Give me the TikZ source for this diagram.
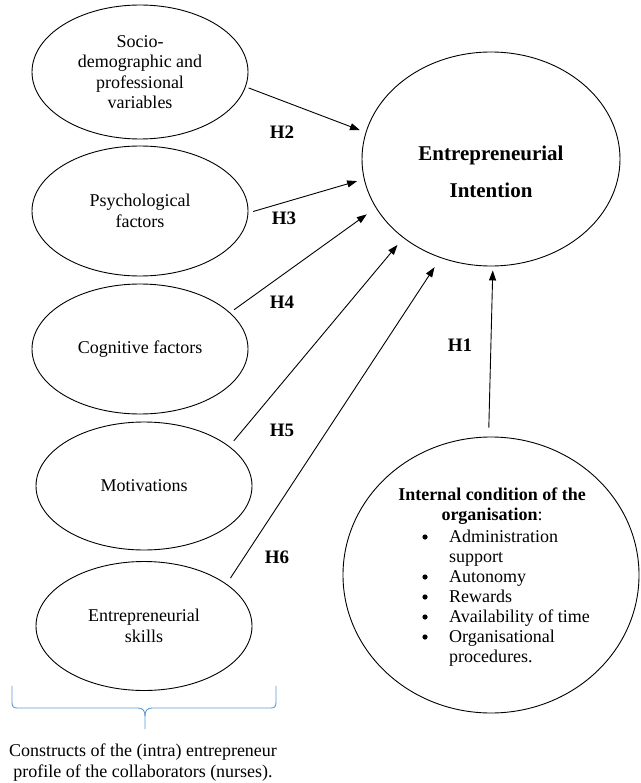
\documentclass[tikz,border=0pt]{standalone}
\usepackage{fontspec}
\setmainfont{Liberation Serif}
\usetikzlibrary{shapes.geometric,arrows.meta}
\definecolor{bracecol}{RGB}{91,155,213}
\begin{document}
\begin{tikzpicture}[x=1pt,y=-1pt,
  oval/.style={draw, line width=0.9pt, ellipse, inner sep=0pt, align=center,
    font=\fontsize{18}{20.5}\selectfont},
  hyp/.style={font=\fontsize{19}{22}\selectfont\bfseries, inner sep=0pt},
  link/.style={line width=0.9pt, -{Triangle[length=10pt,width=7pt]}},
  plain/.style={font=\fontsize{18}{20}\selectfont, inner sep=0pt},
  bracestyle/.style={draw=bracecol, line width=0.9pt},
  ]
\useasboundingbox (0,0) rectangle (640,783);

% left constructs
\node[oval, minimum width=216pt, minimum height=134pt] (s1) at (140,72)
  {Socio-\\demographic and\\professional\\variables};
\node[oval, minimum width=216pt, minimum height=130pt] (s2) at (140,211)
  {Psychological\\factors};
\node[oval, minimum width=216pt, minimum height=130pt] (s3) at (140,349)
  {Cognitive factors};
\node[oval, minimum width=216pt, minimum height=128pt] (s4) at (144,486)
  {Motivations};
\node[oval, minimum width=216pt, minimum height=129pt] (s5) at (144,626)
  {Entrepreneurial\\skills};

% target
\node[oval, minimum width=258pt, minimum height=214pt] (ei) at (491,159) {};
\node[font=\fontsize{21}{37}\selectfont\bfseries, align=center, inner sep=0pt]
  (eitext) at (491,172) {Entrepreneurial\\Intention};

% internal condition
\node[oval, minimum width=296pt, minimum height=276pt] (ic) at (491,575) {};
\node[plain, font=\fontsize{18}{20}\selectfont\bfseries, align=center] (ichead) at (492,506)
  {Internal condition of the\\organisation\textmd{:}};
\node[plain, anchor=base west] (iclist) at (449,542)
  {\fontsize{18}{20}\selectfont\begin{tabular}[t]{@{}l@{}}
   Administration\\
   support\\
   Autonomy\\
   Rewards\\
   Availability of time\\
   Organisational\\
   procedures.
  \end{tabular}};
\foreach \yy in {537,577,597,617,637}
  \fill (425,\yy) circle (2.6pt);

% connectors
\draw[link, shorten <=3pt, shorten >=6pt] (s1.-8) -- (ei.168);
\draw[link, shorten <=5pt, shorten >=7pt] (s2.-1) -- (ei.189);
\draw[link, shorten <=5pt, shorten >=11pt] (s3.22) -- (ei.203.6);
\draw[link, shorten <=7pt, shorten >=9pt] (s4.25) -- (ei.222.5);
\draw[link, shorten <=7pt, shorten >=11pt] (s5.27.5) -- (ei.243.6);
\draw[link, shorten <=9pt, shorten >=4pt] (ic.91.2) -- (ei.271.6);

% hypothesis labels
\node[hyp] (h2) at (282,132) {H2};
\node[hyp] (h3) at (284,218) {H3};
\node[hyp] (h4) at (282,302) {H4};
\node[hyp] (h5) at (282,430) {H5};
\node[hyp] (h6) at (277,557) {H6};
\node[hyp] (h1) at (460,345) {H1};

% brace
\draw[bracestyle] (12,686) -- (12,702) .. controls (12,706) and (13,708) .. (17,708)
  -- (138,708) .. controls (143,708) and (145,711) .. (145,716) -- (145,729);
\draw[bracestyle] (276,686) -- (276,702) .. controls (276,706) and (275,708) .. (271,708)
  -- (152,708) .. controls (147,708) and (145,711) .. (145,716);

% caption
\node[font=\fontsize{18}{21}\selectfont, align=center, inner sep=0pt] (cap) at (143,763)
  {Constructs of the (intra) entrepreneur\\profile of the collaborators (nurses).};
\end{tikzpicture}
\end{document}
